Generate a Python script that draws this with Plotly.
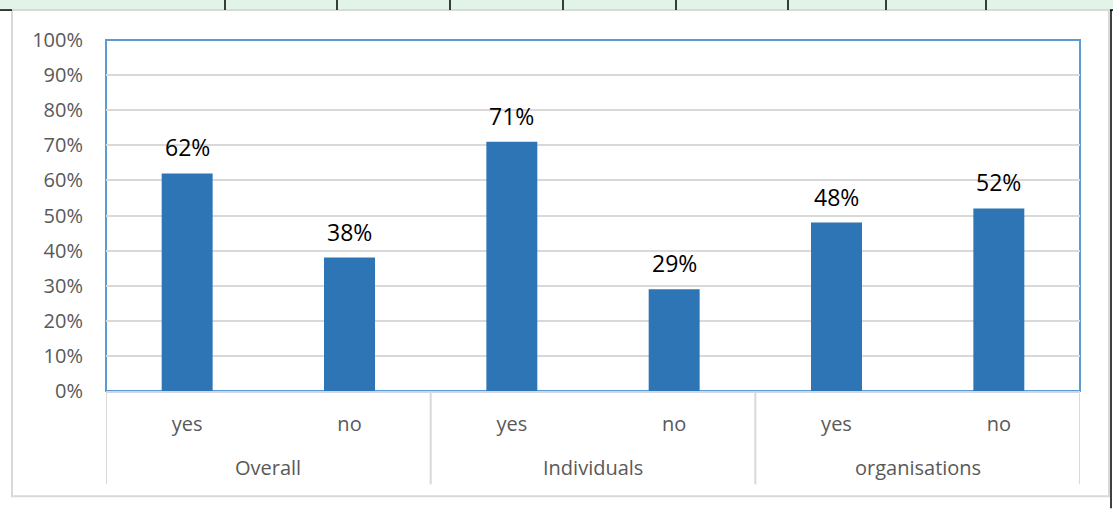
import plotly.graph_objects as go

# Survey answers by respondent group
groups = ["Overall", "Overall", "Individuals", "Individuals", "organisations", "organisations"]
answers = ["yes", "no", "yes", "no", "yes", "no"]
shares = [0.62, 0.38, 0.71, 0.29, 0.48, 0.52]
y_ticks = [i / 10 for i in range(11)]
y_tick_labels = [f"{i * 10}%" for i in range(11)]

W, H = 1113, 509
L, R, T, B = 106, 33, 40, 117.5
pw, ph = W - L - R, H - T - B


def px(x):
    return (x - L) / pw


def py(y):
    return 1 - (y - T) / ph


BAR = "#2E75B6"
GRID = "#D9D9D9"
TEXT = "#595959"
FONT = "Open Sans"

# one unique category per bar; the answer is shown as its tick label
keys = [f"{g} / {a}" for g, a in zip(groups, answers)]

fig = go.Figure(
    go.Bar(
        x=keys,
        y=shares,
        marker=dict(color=BAR, line=dict(width=0)),
        hoverinfo="skip",
    )
)

# value labels above each bar
annotations = [
    dict(
        x=k, y=v, xref="x", yref="y",
        text=f"{round(v * 100)}%", showarrow=False,
        yanchor="bottom", yshift=8,
        font=dict(family=FONT, size=23, color="#000000"),
    )
    for k, v in zip(keys, shares)
]

shapes = [
    # spreadsheet strip behind the chart object
    dict(type="rect", xref="paper", yref="paper", x0=px(0), x1=px(W), y0=py(10), y1=py(0),
         fillcolor="#E2F3E8", line=dict(width=0), layer="below"),
    # chart object frame
    dict(type="rect", xref="paper", yref="paper", x0=px(12), x1=px(1109), y0=py(497), y1=py(10),
         fillcolor="white", line=dict(color=GRID, width=2), layer="below"),
    # plot area frame
    dict(type="rect", xref="paper", yref="paper", x0=0, x1=1, y0=0, y1=1,
         line=dict(color="#5B9BD5", width=2), layer="below"),
    dict(type="line", xref="paper", yref="paper", x0=px(0), x1=px(12), y0=py(10), y1=py(10),
         line=dict(color="black", width=1.5)),
    dict(type="line", xref="paper", yref="paper", x0=px(1110), x1=px(W), y0=py(10), y1=py(10),
         line=dict(color="black", width=1.5)),
    dict(type="line", xref="paper", yref="paper", x0=px(1111), x1=px(1111), y0=py(H), y1=py(10),
         line=dict(color="black", width=1.5)),
]
for cx in [225, 337, 450, 563, 676, 788, 886, 986]:
    shapes.append(dict(type="line", xref="paper", yref="paper", x0=px(cx), x1=px(cx),
                       y0=py(10), y1=py(0), line=dict(color="black", width=1.5)))

# group labels and the dividers between groups on the category axis
seen = []
for g in groups:
    if g not in seen:
        seen.append(g)
bounds = []
for g in seen:
    idx = [i for i, gg in enumerate(groups) if gg == g]
    annotations.append(dict(
        x=(idx[0] + idx[-1]) / 2, y=py(468), xref="x", yref="paper",
        text=g, showarrow=False, yanchor="middle",
        font=dict(family=FONT, size=20, color=TEXT),
    ))
    bounds += [idx[0] - 0.5, idx[-1] + 0.5]
for b in sorted(set(bounds)):
    shapes.append(dict(type="line", xref="x", yref="paper", x0=b, x1=b, y0=0, y1=py(485),
                       line=dict(color=GRID, width=2)))

fig.update_layout(
    width=W, height=H,
    margin=dict(l=L, r=R, t=T, b=B, pad=0),
    paper_bgcolor="white", plot_bgcolor="white",
    bargap=0.686,
    showlegend=False,
    font=dict(family=FONT, size=20, color=TEXT),
    annotations=annotations,
    shapes=shapes,
    xaxis=dict(
        type="category", tickvals=keys, ticktext=answers,
        range=[-0.5, len(keys) - 0.5],
        showline=True, linecolor="#D0D7E0", linewidth=2,
        showgrid=False, ticks="",
        ticklabelstandoff=14,
        tickfont=dict(family=FONT, size=20, color=TEXT),
    ),
    yaxis=dict(
        range=[0, 1], tickvals=y_ticks, ticktext=y_tick_labels,
        showgrid=True, gridcolor=GRID, gridwidth=2,
        zeroline=False, showline=False, ticks="",
        ticklabelstandoff=22,
        tickfont=dict(family=FONT, size=20, color=TEXT),
    ),
)

fig.write_html("out.html")
